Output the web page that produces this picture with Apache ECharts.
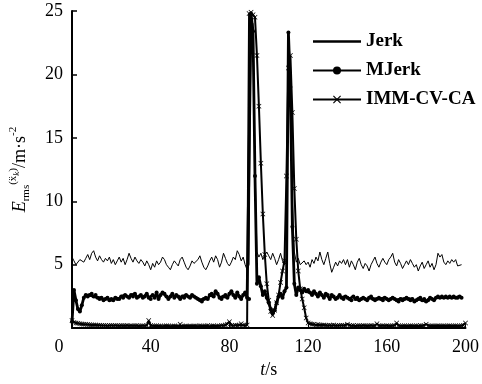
<!DOCTYPE html>
<html><head><meta charset="utf-8">
<script src="https://cdn.jsdelivr.net/npm/echarts@6/dist/echarts.min.js"></script>
<style>html,body{margin:0;padding:0;background:#fff}#c{width:482px;height:384px}</style>
</head><body><div id="c"></div>
<script>
// time step 1 s, starting at t = 0
const seriesNames = ['Jerk', 'MJerk', 'IMM-CV-CA'];
const xTicks = [0, 40, 80, 120, 160, 200];
const yTicks = [0, 5, 10, 15, 20, 25];

const jerk = [
5.6,5.3,5.0,5.1,5.4,5.5,5.2,5.5,5.8,5.4,
5.9,6.1,5.6,5.3,5.7,5.4,5.2,5.5,5.3,5.6,
5.1,5.4,5.0,5.3,5.6,5.2,5.5,5.0,5.4,5.9,
5.5,5.2,5.6,5.3,5.1,5.4,5.2,4.9,5.3,5.0,
4.6,5.1,4.8,5.3,5.0,5.2,5.6,5.4,5.0,4.8,
4.6,5.0,5.3,5.1,4.9,5.4,5.6,5.2,4.8,4.6,
4.9,5.3,5.1,5.0,5.4,5.7,5.2,4.8,4.6,4.9,
5.3,5.6,5.2,5.7,5.4,4.8,5.2,5.9,5.5,5.1,
4.9,5.2,5.6,5.4,6.1,5.8,5.3,5.6,5.0,4.6,
5.0,24.3,24.0,13.0,6.0,5.6,5.9,5.4,5.8,6.0,
5.7,5.4,5.9,5.5,5.0,5.4,5.9,5.3,5.0,5.2,
23.0,21.0,10.0,6.0,5.2,5.5,5.0,4.9,5.3,5.0,
5.2,4.8,5.4,5.1,5.6,5.3,6.0,5.4,5.0,5.5,
6.0,5.1,4.4,4.8,5.2,4.9,5.3,5.1,5.4,5.0,
5.4,4.8,5.3,5.0,4.6,5.2,5.5,5.0,4.7,5.1,
4.9,4.5,5.0,5.3,5.6,5.1,4.8,5.2,5.5,5.2,
5.0,5.4,5.6,5.9,5.2,4.9,5.4,5.1,4.7,5.0,
5.3,5.0,5.4,5.1,4.8,5.0,4.5,4.9,5.2,4.7,
5.0,5.3,4.8,5.1,4.6,5.0,5.9,5.6,5.8,5.2,
5.0,5.3,5.1,5.4,5.2,5.4,4.9,4.8,5.0
];

const mjerk = [
0.5,3.0,2.2,1.5,1.3,1.8,2.4,2.6,2.5,2.6,
2.7,2.5,2.6,2.4,2.3,2.4,2.2,2.3,2.4,2.2,
2.3,2.2,2.4,2.3,2.3,2.5,2.4,2.6,2.5,2.4,
2.6,2.5,2.7,2.4,2.5,2.6,2.4,2.5,2.7,2.4,
2.3,2.6,2.4,2.8,2.3,2.6,2.8,2.7,2.5,2.3,
2.5,2.7,2.4,2.6,2.5,2.3,2.5,2.4,2.6,2.5,
2.4,2.6,2.5,2.4,2.3,2.2,2.1,2.3,2.4,2.3,
2.6,2.7,2.5,2.9,2.7,2.4,2.3,2.5,2.6,2.4,
2.7,2.9,2.6,2.4,2.8,2.5,2.3,2.6,2.8,2.4,
2.3,24.8,23.4,12.0,3.5,4.0,3.3,2.6,2.9,2.4,
2.0,1.5,1.2,1.4,2.0,2.5,2.7,2.4,2.9,3.2,
23.3,19.0,8.0,3.5,2.6,3.2,3.0,2.8,3.1,2.9,
3.0,2.8,2.6,2.9,2.7,2.5,2.8,2.6,2.4,2.7,
2.6,2.3,2.6,2.5,2.3,2.4,2.6,2.4,2.3,2.5,
2.4,2.3,2.2,2.5,2.3,2.4,2.2,2.3,2.4,2.3,
2.2,2.4,2.5,2.3,2.2,2.3,2.4,2.3,2.2,2.4,
2.3,2.2,2.3,2.4,2.3,2.2,2.1,2.3,2.2,2.3,
2.4,2.3,2.2,2.3,2.1,2.2,2.3,2.4,2.2,2.3,
2.1,2.2,2.4,2.3,2.2,2.4,2.5,2.4,2.5,2.4,
2.5,2.4,2.5,2.4,2.5,2.4,2.4,2.5,2.4
];

const imm = [
0.6,0.45,0.4,0.38,0.35,0.33,0.3,0.3,0.28,0.27,
0.25,0.25,0.24,0.22,0.22,0.2,0.2,0.2,0.19,0.2,
0.2,0.18,0.2,0.19,0.18,0.2,0.18,0.18,0.2,0.17,
0.18,0.17,0.18,0.2,0.17,0.16,0.18,0.17,0.2,0.6,
0.2,0.17,0.16,0.18,0.16,0.17,0.15,0.16,0.18,0.16,
0.15,0.16,0.17,0.15,0.16,0.3,0.16,0.15,0.17,0.15,
0.16,0.15,0.17,0.16,0.15,0.18,0.16,0.15,0.16,0.2,
0.15,0.16,0.18,0.15,0.17,0.16,0.2,0.18,0.25,0.3,
0.5,0.2,0.18,0.22,0.2,0.25,0.35,0.22,0.2,0.25,
24.8,24.9,24.7,24.5,21.5,17.5,13.0,9.0,5.8,3.5,
2.2,1.3,1.0,1.4,2.0,2.6,3.6,4.5,5.3,12.0,
20.5,21.5,17.0,11.0,7.0,4.5,3.1,2.3,1.6,0.8,
0.4,0.35,0.3,0.3,0.25,0.28,0.25,0.22,0.25,0.22,
0.2,0.22,0.2,0.25,0.2,0.18,0.2,0.22,0.2,0.18,
0.3,0.2,0.18,0.2,0.17,0.2,0.18,0.17,0.2,0.18,
0.17,0.18,0.2,0.17,0.18,0.35,0.18,0.17,0.18,0.16,
0.18,0.17,0.16,0.18,0.2,0.4,0.18,0.16,0.17,0.18,
0.16,0.17,0.18,0.16,0.17,0.18,0.16,0.2,0.17,0.16,
0.3,0.17,0.16,0.18,0.17,0.16,0.18,0.17,0.16,0.18,
0.17,0.16,0.18,0.17,0.16,0.18,0.17,0.16,0.18,0.2,
0.4
];

const toPairs = arr => arr.map((v, i) => [i, v]);
const serif = '"Liberation Serif", "DejaVu Serif", serif';
const crossPath = 'path://M0,1L1,0L5,4L9,0L10,1L6,5L10,9L9,10L5,6L1,10L0,9L4,5Z';

const chart = echarts.init(document.getElementById('c'), null, {renderer: 'canvas'});
chart.setOption({
  animation: false,
  backgroundColor: '#fff',
  grid: {left: 72, right: 14, top: 11, bottom: 49},
  legend: {
    orient: 'vertical', left: 307, top: 27, itemWidth: 48, itemHeight: 10, itemGap: 10,
    textStyle: {fontFamily: serif, fontSize: 19, fontWeight: 'bold', color: '#000'},
    data: [
      {name: 'Jerk', icon: 'path://M0,0M0,3.8H48V6.2H0ZM48,10', itemStyle: {color: '#000'}},
      {name: 'MJerk'},
      {name: 'IMM-CV-CA'}
    ]
  },
  xAxis: {
    type: 'value', min: 0, max: 200, interval: 40,
    axisLine: {show: true, lineStyle: {color: '#000', width: 2}},
    axisTick: {show: true, inside: true, length: 4, lineStyle: {color: '#000'}},
    splitLine: {show: false},
    axisLabel: {
      margin: 10, color: '#000', fontFamily: serif, fontSize: 18,
      formatter: v => v === 0 ? '{z|0}' : String(v),
      rich: {z: {fontFamily: serif, fontSize: 18, color: '#000', padding: [0, 26, 0, 0]}}
    },
    name: '{i|t}{n|/s}', nameLocation: 'middle', nameGap: 28,
    nameTextStyle: {rich: {
      i: {fontFamily: serif, fontSize: 18, fontStyle: 'italic', color: '#000'},
      n: {fontFamily: serif, fontSize: 18, color: '#000'}
    }}
  },
  yAxis: {
    type: 'value', min: 0, max: 25, interval: 5,
    axisLine: {show: true, lineStyle: {color: '#000', width: 2}},
    axisTick: {show: true, inside: true, length: 5, lineStyle: {color: '#000', width: 1.5}},
    splitLine: {show: false},
    axisLabel: {
      margin: 9, color: '#000', fontFamily: serif, fontSize: 18,
      formatter: v => v === 0 ? '' : String(v)
    },
    name: '{it|E}{sub|rms}{sup|(ẍ}{sup2|k}{sup|)}{n|/m·s}{sup|-2}',
    nameLocation: 'middle', nameGap: 40, nameRotate: 90,
    nameTextStyle: {rich: {
      it: {fontFamily: serif, fontSize: 18, fontStyle: 'italic', color: '#000', lineHeight: 24, verticalAlign: 'middle'},
      n: {fontFamily: serif, fontSize: 18, color: '#000', lineHeight: 24, verticalAlign: 'middle'},
      sub: {fontFamily: serif, fontSize: 11, color: '#000', lineHeight: 24, verticalAlign: 'bottom'},
      sup: {fontFamily: serif, fontSize: 11, color: '#000', lineHeight: 24, verticalAlign: 'top'},
      sup2: {fontFamily: serif, fontSize: 9, fontStyle: 'italic', color: '#000', lineHeight: 24, verticalAlign: 'top', padding: [4, 0, 0, 0]}
    }}
  },
  series: [
    {name: 'Jerk', type: 'line', data: toPairs(jerk), showSymbol: false, symbol: 'none',
     lineStyle: {color: '#000', width: 1}, itemStyle: {color: '#000'}},
    {name: 'MJerk', type: 'line', data: toPairs(mjerk), symbol: 'circle', symbolSize: 4, showSymbol: true,
     lineStyle: {color: '#000', width: 2.8}, itemStyle: {color: '#000'}},
    {name: 'IMM-CV-CA', type: 'line', data: toPairs(imm), symbol: crossPath, symbolSize: 5, showSymbol: true,
     lineStyle: {color: '#000', width: 2}, itemStyle: {color: '#000'}}
  ]
});
</script></body></html>
